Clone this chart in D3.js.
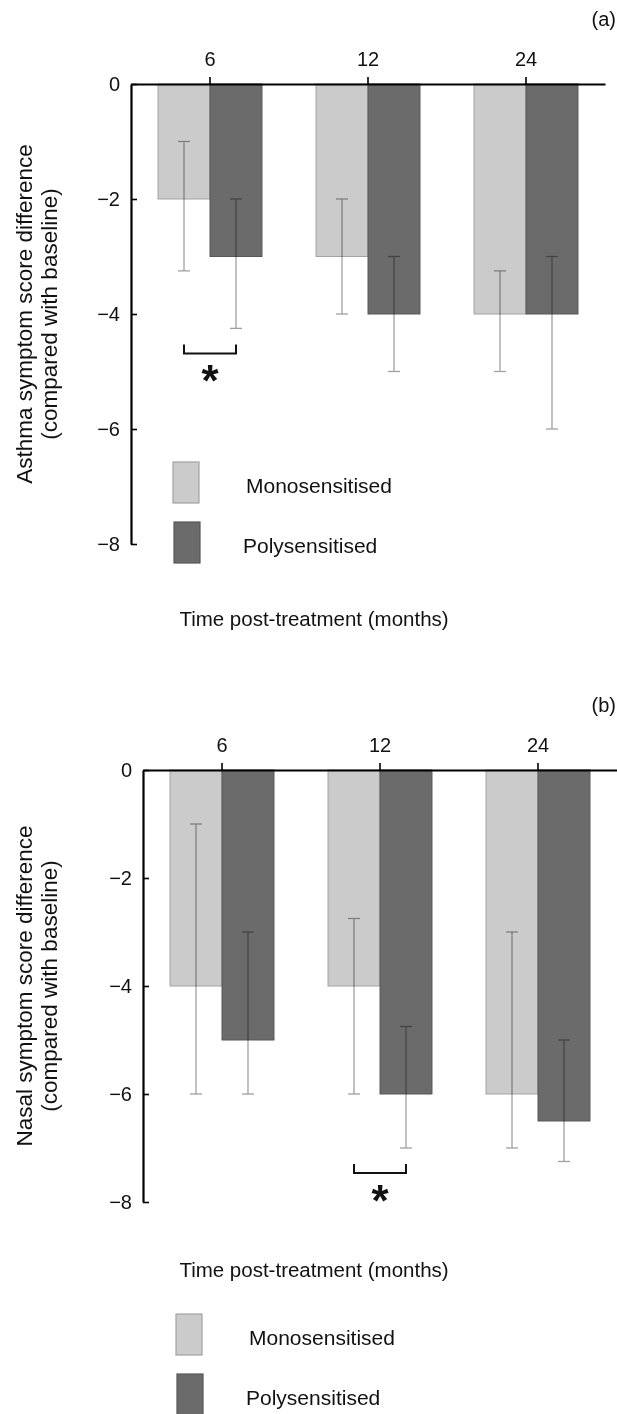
<!DOCTYPE html>
<html>
<head>
<meta charset="utf-8">
<script src="https://cdn.jsdelivr.net/npm/d3@7"></script>
<style>
  body { margin: 0; background: #fff; }
  svg { display: block; font-family: "Liberation Sans", Arial, Helvetica, sans-serif; }
</style>
</head>
<body>
<div id="chart"></div>
<script>
// categories
const months = ["6", "12", "24"];
const groups = ["Monosensitised", "Polysensitised"];
const yTicks = [0, -2, -4, -6, -8];

// (a) asthma symptom score
const asthmaMono = [-2, -3, -4];
const asthmaMonoHi = [-1, -2, -3.25];
const asthmaMonoLo = [-3.25, -4, -5];
const asthmaPoly = [-3, -4, -4];
const asthmaPolyHi = [-2, -3, -3];
const asthmaPolyLo = [-4.25, -5, -6];
const asthmaSig = "6";

// (b) nasal symptom score
const nasalMono = [-4, -4, -6];
const nasalMonoHi = [-1, -2.75, -3];
const nasalMonoLo = [-6, -6, -7];
const nasalPoly = [-5, -6, -6.5];
const nasalPolyHi = [-3, -4.75, -5];
const nasalPolyLo = [-6, -7, -7.25];
const nasalSig = "12";

const colors = { Monosensitised: "#cbcbcb", Polysensitised: "#6b6b6b" };
const strokes = { Monosensitised: "#a2a2a2", Polysensitised: "#585858" };

let svg = d3.select("#chart").append("svg")
  .attr("width", 617)
  .attr("height", 1414);

function rows(mono, monoHi, monoLo, poly, polyHi, polyLo) {
  let out = [];
  months.forEach((m, i) => {
    out.push({ month: m, group: groups[0], v: mono[i], hi: monoHi[i], lo: monoLo[i] });
    out.push({ month: m, group: groups[1], v: poly[i], hi: polyHi[i], lo: polyLo[i] });
  });
  return out;
}

function panel(opt) {
  let g = svg.append("g");

  let x = d3.scaleBand()
    .domain(months)
    .range([opt.left, opt.right])
    .paddingInner(0.342)
    .paddingOuter(0.171);
  let xSub = d3.scaleBand().domain(groups).range([0, x.bandwidth()]);
  let y = d3.scaleLinear().domain([0, -8]).range([opt.top, opt.bottom]);

  // bars
  g.selectAll("rect.bar")
    .data(opt.data)
    .enter()
    .append("rect")
    .attr("class", "bar")
    .attr("x", d => x(d.month) + xSub(d.group))
    .attr("y", y(0))
    .attr("width", xSub.bandwidth())
    .attr("height", d => y(d.v) - y(0))
    .attr("fill", d => colors[d.group])
    .attr("stroke", d => strokes[d.group])
    .attr("stroke-width", 1);

  // error bars
  let cx = d => x(d.month) + xSub(d.group) + xSub.bandwidth() / 2;
  let err = g.selectAll("g.err")
    .data(opt.data)
    .enter()
    .append("g")
    .attr("class", "err")
    .attr("stroke", "#a0a0a0")
    .attr("stroke-width", 1.3)
    .style("mix-blend-mode", "multiply");
  err.append("line")
    .attr("x1", cx).attr("x2", cx)
    .attr("y1", d => y(d.hi)).attr("y2", d => y(d.lo));
  err.append("line")
    .attr("x1", d => cx(d) - 6).attr("x2", d => cx(d) + 6)
    .attr("y1", d => y(d.hi)).attr("y2", d => y(d.hi));
  err.append("line")
    .attr("x1", d => cx(d) - 6).attr("x2", d => cx(d) + 6)
    .attr("y1", d => y(d.lo)).attr("y2", d => y(d.lo));

  // significance bracket
  let pair = opt.data.filter(d => d.month === opt.sig);
  let low = d3.max(pair, d => y(d.lo));
  let bx1 = cx(pair[0]), bx2 = cx(pair[1]);
  let bTop = low + 16, bBot = bTop + 9;
  g.append("path")
    .attr("d", `M${bx1},${bTop}V${bBot}H${bx2}V${bTop}`)
    .attr("fill", "none")
    .attr("stroke", "#111")
    .attr("stroke-width", 2);
  g.append("text")
    .attr("x", (bx1 + bx2) / 2)
    .attr("y", bBot + 43)
    .attr("text-anchor", "middle")
    .attr("font-size", 44)
    .attr("font-weight", "bold")
    .attr("fill", "#111")
    .text("*");

  // axes
  let yAxis = d3.axisLeft(y)
    .tickValues(yTicks)
    .tickFormat(d3.format("d"))
    .tickSizeInner(-6)
    .tickSizeOuter(0)
    .tickPadding(11);
  let ya = g.append("g").attr("transform", `translate(${opt.left},0)`).call(yAxis);
  ya.select(".domain").attr("stroke-width", 2.2);
  ya.selectAll(".tick line").attr("stroke-width", 1.6);
  ya.selectAll(".tick text").attr("font-size", 20).attr("font-family", null).attr("fill", "#111");

  let xAxis = d3.axisTop(x)
    .tickSizeInner(7)
    .tickSizeOuter(0)
    .tickPadding(11);
  let xa = g.append("g").attr("transform", `translate(0,${opt.top})`).call(xAxis);
  xa.select(".domain").attr("stroke-width", 2.2);
  xa.selectAll(".tick line").attr("stroke-width", 1.6);
  xa.selectAll(".tick text").attr("font-size", 20).attr("font-family", null).attr("fill", "#111");

  // y label
  let mid = (opt.top + opt.bottom) / 2;
  let yl = g.append("text")
    .attr("transform", `translate(0,${mid}) rotate(-90)`)
    .attr("text-anchor", "middle")
    .attr("font-size", 22.5)
    .attr("fill", "#111");
  yl.append("tspan").attr("x", 0).attr("y", 32).text(opt.ylabel);
  yl.append("tspan").attr("x", 0).attr("y", 57).text("(compared with baseline)");

  // panel letter
  g.append("text")
    .attr("x", 616)
    .attr("y", opt.top - 58)
    .attr("text-anchor", "end")
    .attr("font-size", 20)
    .attr("fill", "#111")
    .text(opt.letter);

  // x title
  g.append("text")
    .attr("x", 314)
    .attr("y", opt.titleY)
    .attr("text-anchor", "middle")
    .attr("font-size", 20.5)
    .attr("fill", "#111")
    .text("Time post-treatment (months)");

  // legend
  let lg = g.selectAll("g.leg")
    .data(groups)
    .enter()
    .append("g")
    .attr("class", "leg")
    .attr("transform", (d, i) => `translate(${opt.legX + i},${opt.legY + i * 60})`);
  lg.append("rect")
    .attr("width", 26)
    .attr("height", 41)
    .attr("fill", d => colors[d])
    .attr("stroke", d => strokes[d])
    .attr("stroke-width", 1.2);
  lg.append("text")
    .attr("x", (d, i) => 73 - i * 4)
    .attr("y", 31)
    .attr("font-size", 21)
    .attr("fill", "#111")
    .text(d => d);
}

panel({
  data: rows(asthmaMono, asthmaMonoHi, asthmaMonoLo, asthmaPoly, asthmaPolyHi, asthmaPolyLo),
  sig: asthmaSig,
  left: 131, right: 605, top: 84, bottom: 544,
  ylabel: "Asthma symptom score difference",
  letter: "(a)",
  titleY: 626,
  legX: 173, legY: 462
});

panel({
  data: rows(nasalMono, nasalMonoHi, nasalMonoLo, nasalPoly, nasalPolyHi, nasalPolyLo),
  sig: nasalSig,
  left: 143, right: 617, top: 770, bottom: 1202,
  ylabel: "Nasal symptom score difference",
  letter: "(b)",
  titleY: 1277,
  legX: 176, legY: 1314
});
</script>
</body>
</html>
